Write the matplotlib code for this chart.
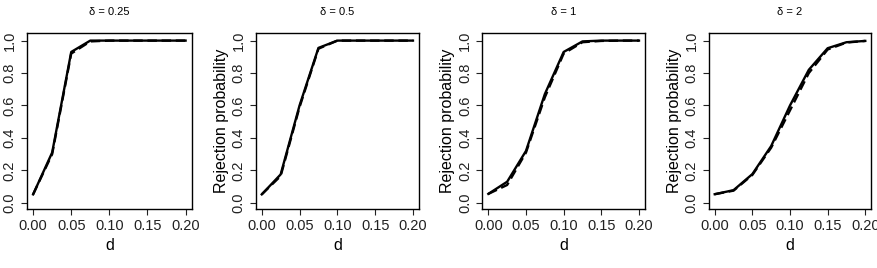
import matplotlib
matplotlib.use("Agg")
import matplotlib.pyplot as plt
import numpy as np

plt.rcParams['font.family'] = ['Liberation Sans', 'DejaVu Sans']

d = [0.0, 0.025, 0.05, 0.075, 0.1, 0.125, 0.15, 0.175, 0.2]
titles = ["δ = 0.25", "δ = 0.5", "δ = 1", "δ = 2"]

solid_025 = [0.052, 0.31, 0.93, 1.0, 1.0, 1.0, 1.0, 1.0, 1.0]
dashed_025 = [0.052, 0.30, 0.92, 0.995, 1.0, 1.0, 1.0, 1.0, 1.0]
solid_05 = [0.052, 0.175, 0.60, 0.955, 1.0, 1.0, 1.0, 1.0, 1.0]
dashed_05 = [0.052, 0.165, 0.59, 0.950, 1.0, 1.0, 1.0, 1.0, 1.0]
solid_1 = [0.055, 0.13, 0.32, 0.67, 0.93, 0.995, 1.0, 1.0, 1.0]
dashed_1 = [0.055, 0.11, 0.31, 0.65, 0.92, 0.99, 0.998, 1.0, 1.0]
solid_2 = [0.053, 0.078, 0.177, 0.35, 0.60, 0.82, 0.953, 0.99, 0.998]
dashed_2 = [0.053, 0.075, 0.172, 0.34, 0.57, 0.80, 0.945, 0.988, 0.998]

solids = [solid_025, solid_05, solid_1, solid_2]
dasheds = [dashed_025, dashed_05, dashed_1, dashed_2]

W, H = 878, 268
fig = plt.figure(figsize=(W / 100, H / 100), dpi=100)
lefts = [27, 255.7, 482.3, 708.7]
rights = [191.7, 419, 645, 871.3]
top, bottom = 33.3, 209.3

for i in range(4):
    ax = fig.add_axes([lefts[i] / W, 1 - bottom / H, (rights[i] - lefts[i]) / W, (bottom - top) / H])
    ax.plot(d, solids[i], color='black', lw=1.7, ls='-')
    ax.plot(d, dasheds[i], color='black', lw=1.7, ls=(0, (4, 2)))
    ax.set_xlim(-0.008, 0.208)
    ax.set_ylim(-0.04, 1.045)
    ax.set_xticks([0.0, 0.05, 0.10, 0.15, 0.20])
    ax.set_xticklabels(["0.00", "0.05", "0.10", "0.15", "0.20"])
    ax.set_yticks([0.0, 0.2, 0.4, 0.6, 0.8, 1.0])
    ax.set_yticklabels(["0.0", "0.2", "0.4", "0.6", "0.8", "1.0"], rotation=90, va='center')
    ax.tick_params(direction='out', length=4.3, width=0.8, labelsize=10.5, pad=3, colors='#222222')
    for s in ax.spines.values():
        s.set_linewidth(1.0)
        s.set_color('black')
    ax.set_xlabel("d", fontsize=11.5, labelpad=3)
    if i > 0:
        ax.set_ylabel("Rejection probability", fontsize=11.5, labelpad=2)
    ax.set_title(titles[i], fontsize=8, pad=13)

fig.savefig("out.png", dpi=100)
